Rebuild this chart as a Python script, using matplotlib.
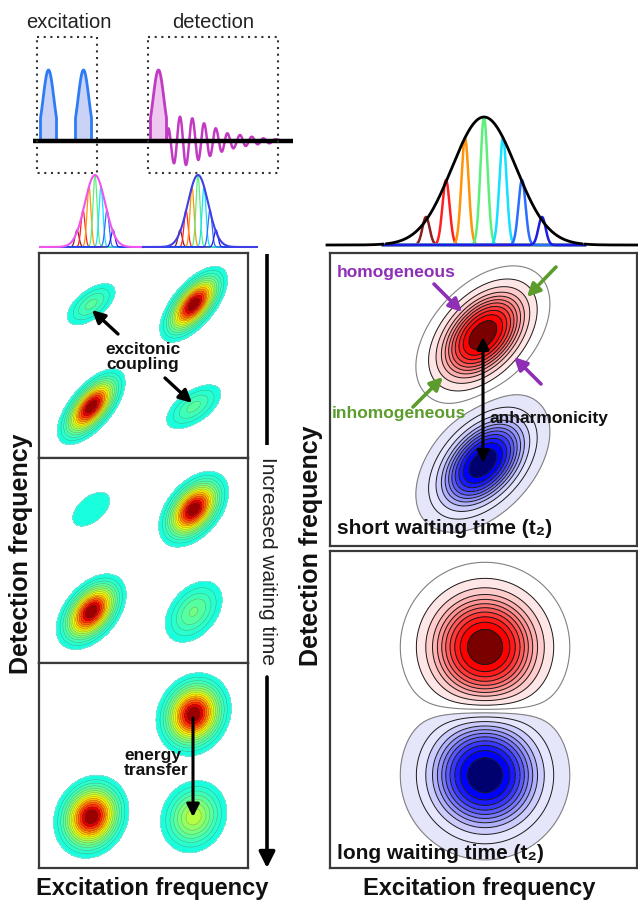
import numpy as np
import matplotlib
matplotlib.use('Agg')
import matplotlib.pyplot as plt
from matplotlib.colors import ListedColormap, to_rgb

plt.rcParams['font.family'] = ['Liberation Sans', 'DejaVu Sans']

W, H = 638, 905
fig = plt.figure(figsize=(W / 100, H / 100), dpi=100)

# ---------------- data ----------------
# pulse sequence (x in px of the schematic, heights in px)
exc_pulse_centers = [48.5, 83.5]
det_pulse_center = 158.5
pulse_height = 71
pulse_width = 16
osc_x = [168.3, 174, 180, 186, 192.3, 198.3, 204, 210, 215.7, 221.7,
         227.3, 233.3, 240, 245.7, 251.7, 257.7, 263.3, 269.3, 275]
osc_amp = [12.7, -22.3, 24.3, -24, 22.7, -19, 17.7, -15, 12.7, -10.7,
           7.7, -7.3, 6, -5, 4.3, -3.3, 2.7, -2.3, 1.7]

# spectra: rainbow sub-bands under a broad envelope
sub_colors = ['#8b1e1e', '#ff1f1f', '#ff9408', '#5cf07a', '#14e0ff', '#2a6dff', '#1c1ce6']
small_sub_offsets = [-18, -12, -6, 0, 6, 12, 18]
small_sub_heights = [17, 37, 60, 72, 60, 37, 17]
big_sub_offsets = [-58, -38, -19, 0, 19, 38, 58]
big_sub_heights = [28, 65, 107, 128, 107, 65, 28]

# 2D peaks: (x frac, y frac, amplitude, sigma_major px, sigma_minor px, angle deg)
panel1_peaks = [(0.25, 0.75, 0.30, 19, 9.5, 38), (0.74, 0.75, 1.0, 21.5, 10, 50),
                (0.25, 0.25, 1.0, 21.5, 10, 50), (0.74, 0.25, 0.30, 21, 10.5, 35)]
panel2_peaks = [(0.25, 0.75, 0.13, 30, 17, 40), (0.74, 0.75, 1.0, 20.5, 12.5, 50),
                (0.25, 0.25, 1.0, 20.5, 12.5, 50), (0.74, 0.25, 0.35, 22, 14.5, 50)]
panel3_peaks = [(0.74, 0.75, 1.0, 20, 16.8, 62), (0.25, 0.25, 1.0, 20, 16.8, 62),
                (0.74, 0.25, 0.5, 20.7, 17.8, 62)]
short_peaks = [(0.498, 0.72, 1.0, 31, 19, 47), (0.498, 0.283, -1.0, 31, 19, 47)]
long_peaks = [(0.505, 0.697, 1.0, 32, 32, 0), (0.505, 0.293, -1.0, 32, 32, 0)]

left_levels = list(np.arange(0.1, 1.02, 0.06))
pos_levels = [0.03, 0.1, 0.18, 0.26, 0.33, 0.4, 0.47, 0.55, 0.64, 0.74, 0.86, 1.01]


# ---------------- helpers ----------------
def px_axes(x0, y0, x1, y1, **kw):
    return fig.add_axes([x0 / W, 1 - y1 / H, (x1 - x0) / W, (y1 - y0) / H], **kw)


def field(peaks, w, h, n=420):
    X, Y = np.meshgrid(np.linspace(0, w, n), np.linspace(0, h, n))
    Z = np.zeros_like(X)
    for fx, fy, A, smaj, smin, ang in peaks:
        t = np.deg2rad(ang)
        dx, dy = X - fx * w, Y - fy * h
        u = dx * np.cos(t) + dy * np.sin(t)
        v = -dx * np.sin(t) + dy * np.cos(t)
        Z += A * np.exp(-u ** 2 / (2 * smaj ** 2) - v ** 2 / (2 * smin ** 2))
    return X, Y, Z


def frame(ax, w, h):
    ax.set_xlim(0, w)
    ax.set_ylim(0, h)
    ax.set_xticks([])
    ax.set_yticks([])
    for s in ax.spines.values():
        s.set_linewidth(1.6)
        s.set_color('#3a3a3a')


jet = plt.get_cmap('jet')
cm_left = ListedColormap(jet(0.375 + 0.625 * np.linspace(0, 1, 256) ** 1.4))


def left_panel(y0, y1, peaks):
    x0, x1 = 39, 248
    ax = px_axes(x0, y0, x1, y1)
    w, h = x1 - x0, y1 - y0
    X, Y, Z = field(peaks, w, h)
    ax.contourf(X, Y, Z, levels=left_levels, cmap=cm_left, vmin=0.1, vmax=1.0)
    ax.contour(X, Y, Z, levels=left_levels[:1], colors='#c8c8c8', linewidths=0.4)
    ax.contour(X, Y, Z, levels=left_levels[1:], colors='#404040', linewidths=0.3, alpha=0.5)
    frame(ax, w, h)
    return ax


def mix(c1, c2, t):
    a, b = np.array(to_rgb(c1)), np.array(to_rgb(c2))
    return tuple(a + (b - a) * t)


band_t = [0.1, 0.2, 0.31, 0.42, 0.53, 0.65, 0.78, 0.9, 1.0]
red_colors = ['#ffffff'] + [mix('white', '#ff0000', t) for t in band_t] + ['#7a0000']
blue_colors = ['#e6e6fa'] + [mix('white', '#0000ff', t) for t in band_t] + ['#00006e']
neg_levels = [-v for v in pos_levels[::-1]]


def right_panel(y0, y1, peaks):
    x0, x1 = 330, 637
    ax = px_axes(x0, y0, x1, y1)
    w, h = x1 - x0, y1 - y0
    X, Y, Z = field(peaks, w, h)
    ax.contourf(X, Y, Z, levels=pos_levels, colors=red_colors)
    ax.contourf(X, Y, Z, levels=neg_levels, colors=blue_colors[::-1])
    ax.contour(X, Y, Z, levels=[neg_levels[-1], pos_levels[0]], colors='#808080',
               linewidths=0.8, linestyles='solid')
    ax.contour(X, Y, Z, levels=pos_levels[1:-1], colors='#1a1a1a', linewidths=0.7,
               linestyles='solid')
    ax.contour(X, Y, Z, levels=neg_levels[1:-1], colors='#1a1a1a', linewidths=0.7,
               linestyles='solid')
    frame(ax, w, h)
    return ax


# ---------------- 2D panels ----------------
left_panel(253, 458, panel1_peaks)
left_panel(458, 663, panel2_peaks)
left_panel(663, 868, panel3_peaks)
right_panel(253, 546, short_peaks)
right_panel(551, 868, long_peaks)

# ---------------- overlay ----------------
ov = fig.add_axes([0, 0, 1, 1], zorder=10)
ov.set_xlim(0, W)
ov.set_ylim(H, 0)
ov.axis('off')

# pulse sequence
base = 141


def pulse_shape(c):
    x = np.linspace(c - pulse_width / 2, c + pulse_width / 2, 60)
    y = pulse_height * np.exp(-(x - c) ** 2 / (2 * (pulse_width / 3.0) ** 2))
    return np.r_[x[0], x, x[-1]], base - np.r_[0, y, 0]


for c in exc_pulse_centers:
    px_, py_ = pulse_shape(c)
    ov.fill(px_, py_, color='#cad3f6', zorder=2)
    ov.plot(px_, py_, color='#2d7cf6', lw=2, zorder=3)
px_, py_ = pulse_shape(det_pulse_center)
ov.fill(px_, py_, color='#efc6ef', zorder=2)
ov.plot(px_, py_, color='#c23ac2', lw=2, zorder=3)

xs = [det_pulse_center + pulse_width / 2] + osc_x + [285]
ams = [0] + osc_amp + [0]
ox, oy = [], []
for i in range(len(xs) - 1):
    t = np.linspace(0, 1, 24)
    ox.append(xs[i] + (xs[i + 1] - xs[i]) * t)
    oy.append((ams[i] + ams[i + 1]) / 2 + (ams[i] - ams[i + 1]) / 2 * np.cos(np.pi * t))
ov.plot(np.concatenate(ox), base - np.concatenate(oy), color='#c23ac2', lw=1.8, zorder=3)
ov.plot([33, 293], [base, base], color='black', lw=3.2, zorder=4, solid_capstyle='butt')

dot = dict(color='#333333', lw=1.5, ls=(0, (1, 2.2)), zorder=5)
for (bx0, bx1) in [(37, 97), (148, 278)]:
    ov.plot([bx0, bx1, bx1, bx0, bx0], [37, 37, 173, 173, 37], **dot)
ov.text(68.5, 22, 'excitation', ha='center', va='center', fontsize=14.5, color='#222222')
ov.text(213, 22, 'detection', ha='center', va='center', fontsize=14.5, color='#222222')


# spectra
def spectrum(cx, x0, x1, baseline, sigma, height, sub_off, sub_h, sub_sigma, env_color, sub_lw, env_lw,
             sub_range=None, mask_range=None):
    x = np.linspace(x0, x1, 800)
    env = height * np.exp(-(x - cx) ** 2 / (2 * sigma ** 2))
    xr = x if sub_range is None else np.linspace(sub_range[0], sub_range[1], 800)
    for off, hh, col in zip(sub_off, sub_h, sub_colors):
        ov.plot(xr, baseline - hh * np.exp(-(xr - cx - off) ** 2 / (2 * sub_sigma ** 2)),
                color=col, lw=sub_lw, zorder=3)
    ye = env.copy()
    if mask_range is not None:
        m = (x > mask_range[0]) & (x < mask_range[1]) & (ye < 1.2)
        ye[m] = np.nan
    ov.plot(x, baseline - ye, color=env_color, lw=env_lw, zorder=4)


spectrum(95, 40, 143, 247, 10.2, 72, small_sub_offsets, small_sub_heights, 2.0, '#f055f0', 0.9, 1.5)
spectrum(198, 143, 257, 247, 10.2, 72, small_sub_offsets, small_sub_heights, 2.0, '#3f3fe8', 0.9, 1.5)
spectrum(484, 327, 638, 245, 32, 128, big_sub_offsets, big_sub_heights, 3.6, '#000000', 1.8, 2.0,
         sub_range=(383, 585), mask_range=(383, 585))

# waiting-time arrow
ov.plot([267, 267], [254, 445], color='black', lw=2.6, solid_capstyle='butt')
ov.annotate('', xy=(267, 868), xytext=(267, 677),
            arrowprops=dict(arrowstyle='-|>', lw=2.6, color='black', mutation_scale=24,
                            shrinkA=0, shrinkB=0))
ov.text(267, 561, 'Increased waiting time', rotation=270, ha='center', va='center',
        fontsize=15, color='#222222')

# annotations left
arr = dict(arrowstyle='-|>', lw=2.4, color='black', mutation_scale=19, shrinkA=0, shrinkB=0)
ov.annotate('', xy=(92, 310), xytext=(118, 334), arrowprops=arr)
ov.annotate('', xy=(192, 403), xytext=(165, 378), arrowprops=arr)
ov.text(143, 357, 'excitonic\ncoupling', ha='center', va='center', fontsize=12.5,
        fontweight='bold', linespacing=1.05, color='#111111')
ov.annotate('', xy=(193, 817), xytext=(193, 718), arrowprops=dict(arr, lw=2.2))
ov.text(124, 763, 'energy\ntransfer', ha='left', va='center', fontsize=12.5,
        fontweight='bold', linespacing=1.05, color='#111111')

# annotations right
purple, green = '#8e2fb5', '#5b9c2c'
ov.text(337, 272, 'homogeneous', ha='left', va='center', fontsize=12.5, fontweight='bold', color=purple)
ov.text(332, 413, 'inhomogeneous', ha='left', va='center', fontsize=12.5, fontweight='bold', color=green)
ov.annotate('', xy=(462, 312), xytext=(434, 284), arrowprops=dict(arr, color=purple, lw=2.6))
ov.annotate('', xy=(514, 357), xytext=(541, 384), arrowprops=dict(arr, color=purple, lw=2.6))
ov.annotate('', xy=(527, 297), xytext=(556, 267), arrowprops=dict(arr, color=green, lw=2.6))
ov.annotate('', xy=(443, 377), xytext=(413, 407), arrowprops=dict(arr, color=green, lw=2.6))
ov.annotate('', xy=(483, 337), xytext=(483, 463),
            arrowprops=dict(arrowstyle='<|-|>', lw=2.2, color='black', mutation_scale=18,
                            shrinkA=0, shrinkB=0))
ov.text(490, 418, 'anharmonicity', ha='left', va='center', fontsize=12.5, fontweight='bold', color='#111111')
ov.text(337, 528, 'short waiting time (t\u2082)', ha='left', va='center', fontsize=15,
        fontweight='bold', color='#111111')
ov.text(337, 853, 'long waiting time (t\u2082)', ha='left', va='center', fontsize=15,
        fontweight='bold', color='#111111')

# axis labels
ov.text(21, 554, 'Detection frequency', rotation=90, ha='center', va='center', fontsize=18,
        fontweight='bold', color='#111111')
ov.text(311, 546, 'Detection frequency', rotation=90, ha='center', va='center', fontsize=18,
        fontweight='bold', color='#111111')
ov.text(152, 888, 'Excitation frequency', ha='center', va='center', fontsize=17,
        fontweight='bold', color='#111111')
ov.text(479, 888, 'Excitation frequency', ha='center', va='center', fontsize=17,
        fontweight='bold', color='#111111')

fig.savefig('out.png', dpi=100)
